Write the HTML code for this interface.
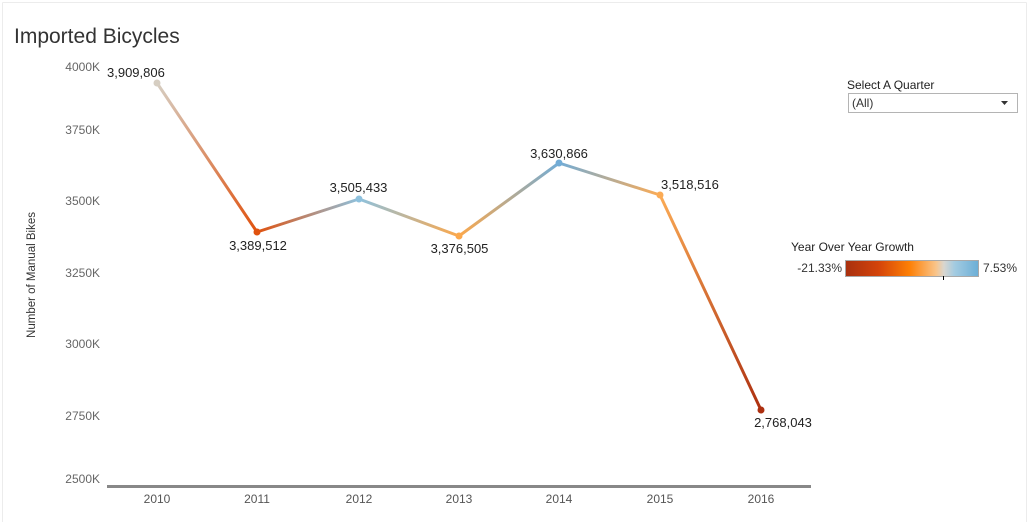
<!DOCTYPE html>
<html>
<head>
<meta charset="utf-8">
<style>
html,body{margin:0;padding:0;background:#fff;}
body{width:1028px;height:522px;overflow:hidden;position:relative;font-family:"Liberation Sans",sans-serif;}
svg{position:absolute;left:0;top:0;}
</style>
</head>
<body>
<svg width="1028" height="522" viewBox="0 0 1028 522" xmlns="http://www.w3.org/2000/svg" font-family="Liberation Sans, sans-serif">
  <defs>
    <linearGradient id="g1" gradientUnits="userSpaceOnUse" x1="157" y1="83" x2="257" y2="232">
      <stop offset="0" stop-color="#d6cec2"/><stop offset="1" stop-color="#e0520f"/>
    </linearGradient>
    <linearGradient id="g2" gradientUnits="userSpaceOnUse" x1="257" y1="232" x2="359" y2="199">
      <stop offset="0" stop-color="#e0520f"/><stop offset="1" stop-color="#8ec1dd"/>
    </linearGradient>
    <linearGradient id="g3" gradientUnits="userSpaceOnUse" x1="359" y1="199" x2="459" y2="236">
      <stop offset="0" stop-color="#8ec1dd"/><stop offset="1" stop-color="#fba84c"/>
    </linearGradient>
    <linearGradient id="g4" gradientUnits="userSpaceOnUse" x1="459" y1="236" x2="559" y2="163">
      <stop offset="0" stop-color="#fba84c"/><stop offset="1" stop-color="#72acd6"/>
    </linearGradient>
    <linearGradient id="g5" gradientUnits="userSpaceOnUse" x1="559" y1="163" x2="660" y2="195">
      <stop offset="0" stop-color="#72acd6"/><stop offset="1" stop-color="#fbab55"/>
    </linearGradient>
    <linearGradient id="g6" gradientUnits="userSpaceOnUse" x1="660" y1="195" x2="761" y2="410">
      <stop offset="0" stop-color="#fbab55"/><stop offset="1" stop-color="#ad3010"/>
    </linearGradient>
    <linearGradient id="leg" x1="0" y1="0" x2="1" y2="0">
      <stop offset="0" stop-color="#a8300f"/>
      <stop offset="0.25" stop-color="#d4440a"/>
      <stop offset="0.48" stop-color="#fd7f05"/>
      <stop offset="0.68" stop-color="#f9c489"/>
      <stop offset="0.74" stop-color="#d9d6cf"/>
      <stop offset="0.82" stop-color="#a3cbe1"/>
      <stop offset="1" stop-color="#6baed6"/>
    </linearGradient>
  </defs>

  <!-- frame -->
  <line x1="2.5" y1="2.5" x2="1026.5" y2="2.5" stroke="#ececec" stroke-width="1"/>
  <line x1="2.5" y1="2.5" x2="2.5" y2="522" stroke="#ececec" stroke-width="1"/>
  <line x1="1026.5" y1="2.5" x2="1026.5" y2="522" stroke="#ececec" stroke-width="1"/>

  <!-- title -->
  <text x="14" y="43" font-size="21" fill="#333">Imported Bicycles</text>

  <!-- y axis labels -->
  <g font-size="12" fill="#666" text-anchor="end">
    <text x="100" y="71">4000K</text>
    <text x="100" y="134">3750K</text>
    <text x="100" y="205">3500K</text>
    <text x="100" y="277">3250K</text>
    <text x="100" y="348">3000K</text>
    <text x="100" y="420">2750K</text>
    <text x="100" y="483">2500K</text>
  </g>
  <text transform="translate(35,275) rotate(-90)" font-size="11.5" fill="#333" text-anchor="middle">Number of Manual Bikes</text>

  <!-- x axis -->
  <rect x="107" y="485" width="704" height="3" fill="#888"/>
  <g font-size="12" fill="#555" text-anchor="middle">
    <text x="157" y="503">2010</text>
    <text x="257" y="503">2011</text>
    <text x="359" y="503">2012</text>
    <text x="459" y="503">2013</text>
    <text x="559" y="503">2014</text>
    <text x="660" y="503">2015</text>
    <text x="761" y="503">2016</text>
  </g>

  <!-- line segments -->
  <g stroke-width="3" stroke-linecap="round" fill="none">
    <line x1="157" y1="83" x2="257" y2="232" stroke="url(#g1)"/>
    <line x1="257" y1="232" x2="359" y2="199" stroke="url(#g2)"/>
    <line x1="359" y1="199" x2="459" y2="236" stroke="url(#g3)"/>
    <line x1="459" y1="236" x2="559" y2="163" stroke="url(#g4)"/>
    <line x1="559" y1="163" x2="660" y2="195" stroke="url(#g5)"/>
    <line x1="660" y1="195" x2="761" y2="410" stroke="url(#g6)"/>
  </g>
  <g>
    <circle cx="157" cy="83" r="3.5" fill="#d6cec2"/>
    <circle cx="257" cy="232" r="3.5" fill="#e0520f"/>
    <circle cx="359" cy="199" r="3.5" fill="#8ec1dd"/>
    <circle cx="459" cy="236" r="3.5" fill="#fba84c"/>
    <circle cx="559" cy="163" r="3.5" fill="#72acd6"/>
    <circle cx="660" cy="195" r="3.5" fill="#fbab55"/>
    <circle cx="761" cy="410" r="3.5" fill="#ad3010"/>
  </g>

  <!-- data labels -->
  <g font-size="13" fill="#222">
    <text x="107" y="77">3,909,806</text>
    <text x="258" y="250" text-anchor="middle">3,389,512</text>
    <text x="358.5" y="192" text-anchor="middle">3,505,433</text>
    <text x="459.5" y="253" text-anchor="middle">3,376,505</text>
    <text x="559" y="158" text-anchor="middle">3,630,866</text>
    <text x="661" y="189">3,518,516</text>
    <text x="783" y="427" text-anchor="middle">2,768,043</text>
  </g>

  <!-- filter -->
  <text x="847" y="89" font-size="12" fill="#222">Select A Quarter</text>
  <rect x="848.5" y="93.5" width="169" height="19" fill="#fff" stroke="#b4b4b4" stroke-width="1"/>
  <text x="852" y="107" font-size="12" fill="#333">(All)</text>
  <polygon points="1001,101 1008,101 1004.5,105" fill="#333"/>

  <!-- color legend -->
  <text x="791" y="251" font-size="12" fill="#222">Year Over Year Growth</text>
  <text x="842" y="272" font-size="12" fill="#333" text-anchor="end">-21.33%</text>
  <rect x="845.5" y="260.5" width="133" height="16" fill="url(#leg)" stroke="#a8a8a8" stroke-width="1"/>
  <line x1="943.5" y1="276" x2="943.5" y2="280" stroke="#000" stroke-width="1"/>
  <text x="983" y="272" font-size="12" fill="#333">7.53%</text>
</svg>
</body>
</html>
